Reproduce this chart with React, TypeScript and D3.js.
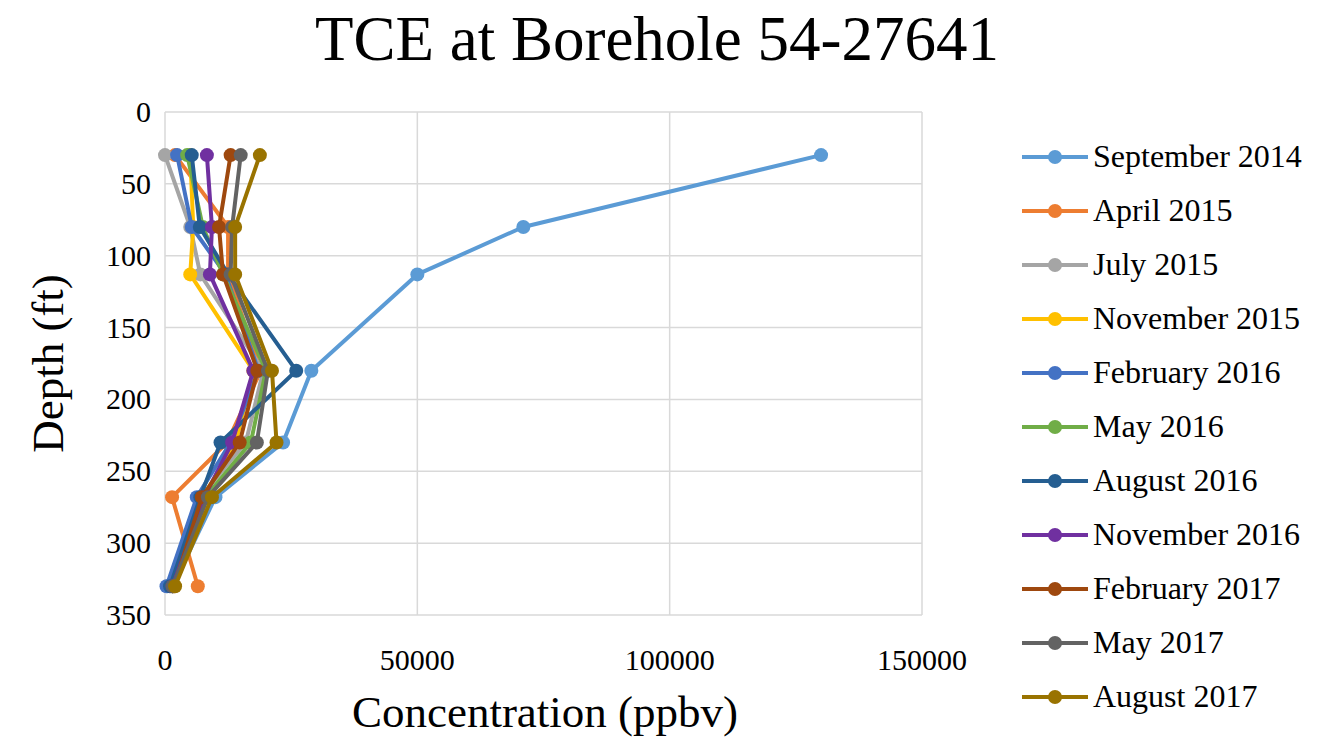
import React from "react";
import * as d3 from "d3";

const depths = [30, 80, 113, 180, 230, 268, 330];
const seriesNames = [
  "September 2014", "April 2015", "July 2015", "November 2015", "February 2016",
  "May 2016", "August 2016", "November 2016", "February 2017", "May 2017", "August 2017",
];
const sep2014 = [130000, 71000, 50000, 29000, 23400, 10000, 1500];
const apr2015 = [2000, 12500, 12500, 19000, 12300, 1400, 6500];
const jul2015 = [0, 5000, 7000, 19500, 16000, 7000, 500];
const nov2015 = [5000, 5600, 5000, 17500, 14000, 7500, 1500];
const feb2016 = [2400, 5300, 12000, 18500, 13000, 6300, 300];
const may2016 = [4400, 7500, 11500, 20000, 17000, 8000, 1500];
const aug2016 = [5300, 6900, 12500, 26000, 11000, 7000, 1000];
const nov2016 = [8300, 9300, 8900, 17500, 13300, 7800, 1500];
const feb2017 = [13000, 10700, 11500, 18300, 14800, 7300, 1800];
const may2017 = [15000, 13300, 13000, 20400, 18200, 8500, 1500];
const aug2017 = [18800, 13900, 13900, 21200, 22100, 9300, 2000];
const seriesValues = [sep2014, apr2015, jul2015, nov2015, feb2016, may2016, aug2016, nov2016, feb2017, may2017, aug2017];
const colors = ["#5B9BD5", "#ED7D31", "#A5A5A5", "#FFC000", "#4472C4", "#70AD47", "#255E91", "#7030A0", "#9E480E", "#636363", "#997300"];
const xTicks = [0, 50000, 100000, 150000];
const yTicks = [0, 50, 100, 150, 200, 250, 300, 350];

const FONT = "'Liberation Serif', 'Times New Roman', serif";

export default function App() {
  const W = 1329, H = 741;
  const x = d3.scaleLinear().domain([0, 150000]).range([165, 922]);
  const y = d3.scaleLinear().domain([0, 350]).range([112, 615]);
  const line = d3.line<[number, number]>().x(d => x(d[0])).y(d => y(d[1]));
  return (
    <svg width={W} height={H} style={{ position: "absolute", left: 0, top: 0, background: "#fff" }}>
      <rect width={W} height={H} fill="#fff" />
      <text x={657} y={60} textAnchor="middle" fontFamily={FONT} fontSize={63} fill="#000">TCE at Borehole 54-27641</text>
      {yTicks.map(t => (
        <line key={"gy" + t} x1={x(0)} x2={x(150000)} y1={y(t)} y2={y(t)} stroke="#D9D9D9" strokeWidth={1.5} />
      ))}
      {xTicks.map(t => (
        <line key={"gx" + t} x1={x(t)} x2={x(t)} y1={y(0)} y2={y(350)} stroke="#D9D9D9" strokeWidth={1.5} />
      ))}
      {yTicks.map(t => (
        <text key={"ty" + t} x={151} y={y(t) + 10} textAnchor="end" fontFamily={FONT} fontSize={30} fill="#000">{t}</text>
      ))}
      {xTicks.map(t => (
        <text key={"tx" + t} x={x(t)} y={670} textAnchor="middle" fontFamily={FONT} fontSize={30} fill="#000">{t}</text>
      ))}
      <text transform={`translate(63,${y(175)}) rotate(-90)`} textAnchor="middle" fontFamily={FONT} fontSize={45} fill="#000">Depth (ft)</text>
      <text x={545} y={727} textAnchor="middle" fontFamily={FONT} fontSize={45} fill="#000">Concentration (ppbv)</text>
      {seriesValues.map((vals, i) => {
        const pts: [number, number][] = vals.map((v, j) => [v, depths[j]]);
        return (
          <g key={"s" + i}>
            <path d={line(pts) || ""} fill="none" stroke={colors[i]} strokeWidth={4} strokeLinejoin="round" />
            {pts.map((p, j) => (
              <circle key={j} cx={x(p[0])} cy={y(p[1])} r={7} fill={colors[i]} />
            ))}
          </g>
        );
      })}
      {seriesNames.map((n, i) => {
        const ly = 157 + i * 54;
        return (
          <g key={"l" + i}>
            <line x1={1022} x2={1088} y1={ly} y2={ly} stroke={colors[i]} strokeWidth={4} />
            <circle cx={1055} cy={ly} r={7} fill={colors[i]} />
            <text x={1093} y={ly + 10} fontFamily={FONT} fontSize={32} fill="#000">{n}</text>
          </g>
        );
      })}
    </svg>
  );
}
